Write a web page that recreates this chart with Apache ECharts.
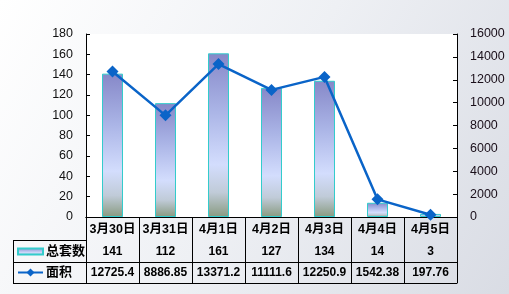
<!DOCTYPE html>
<html><head><meta charset="utf-8">
<script src="https://cdn.jsdelivr.net/npm/echarts@6/dist/echarts.min.js"></script>
<style>html,body{margin:0;padding:0;}#c{width:509px;height:294px;}</style>
</head><body><div id="c"></div>
<script>
const categories = ['3月30日','3月31日','4月1日','4月2日','4月3日','4月4日','4月5日'];
const totalUnits = [141, 112, 161, 127, 134, 14, 3];
const areaValues = [12725.4, 8886.85, 13371.2, 11111.6, 12250.9, 1542.38, 197.76];
const areaLabels = ['12725.4','8886.85','13371.2','11111.6','12250.9','1542.38','197.76'];
const leftTicks = {min: 0, max: 180, interval: 20};
const rightTicks = {min: 0, max: 16000, interval: 2000};

const FF = 'Liberation Sans, Arial, Noto Sans CJK SC, sans-serif';
const chart = echarts.init(document.getElementById('c'));
const tableAxis = (labels, offset, size, margin, show) => ({
  type: 'category', data: labels, position: 'bottom', offset: offset, gridIndex: 0,
  boundaryGap: true,
  axisLine: {show: true, lineStyle: {color: '#000', width: 1}},
  axisTick: {show: false},
  axisLabel: {show: show, interval: 0, margin: margin, color: '#000', fontWeight: 'bold', fontSize: size, fontFamily: FF}
});
chart.setOption({
  animation: false,
  backgroundColor: new echarts.graphic.LinearGradient(0, 0, 1, 1, [
    {offset: 0, color: '#ffffff'}, {offset: 0.5, color: '#eef0f4'}, {offset: 1, color: '#d9dce4'}
  ]),
  grid: {left: 86, right: 52, top: 34, bottom: 77, show: true, backgroundColor: '#ffffff', borderWidth: 0},
  legend: [
    {data: [{name: '总套数', icon: 'rect'}], left: 17, top: 245, padding: 0, itemWidth: 25, itemHeight: 6, itemGap: 2,
     textStyle: {color: '#000', fontWeight: 'bold', fontSize: 13, fontFamily: FF, padding: [0,0,0,-2]}},
    {data: ['面积'], left: 17, top: 266, padding: 0, itemWidth: 25, itemHeight: 10, itemGap: 2,
     textStyle: {color: '#000', fontWeight: 'bold', fontSize: 13, fontFamily: FF, padding: [0,0,0,-2]}}
  ],
  xAxis: [
    {
      type: 'category', data: categories, position: 'bottom', boundaryGap: true,
      axisLine: {show: true, lineStyle: {color: '#000', width: 1}},
      axisTick: {show: true, length: 66, inside: false, alignWithLabel: false, interval: 0, lineStyle: {color: '#000', width: 1}},
      axisLabel: {interval: 0, margin: 6, color: '#000', fontWeight: 'bold', fontSize: 12.5, fontFamily: FF}
    },
    tableAxis(totalUnits.map(String), 23, 12, 6, true),
    tableAxis(areaLabels, 45, 12, 5, true),
    tableAxis(categories, 66, 11, 5, false)
  ],
  yAxis: [
    {type: 'value', min: leftTicks.min, max: leftTicks.max, interval: leftTicks.interval, position: 'left',
     axisLine: {show: true, lineStyle: {color: '#000'}},
     axisTick: {show: true, inside: true, length: 4, lineStyle: {color: '#000'}},
     splitLine: {show: false},
     axisLabel: {margin: 13, color: '#111', fontSize: 12.5, fontFamily: FF}},
    {type: 'value', min: rightTicks.min, max: rightTicks.max, interval: rightTicks.interval, position: 'right',
     axisLine: {show: true, lineStyle: {color: '#000'}},
     axisTick: {show: true, inside: true, length: 4, lineStyle: {color: '#000'}},
     splitLine: {show: false},
     axisLabel: {margin: 13, color: '#1a0f1a', fontSize: 12.5, fontFamily: 'Liberation Sans Narrow, ' + FF,
                 formatter: v => String(v)}}
  ],
  series: [
    {name: '总套数', type: 'bar', data: totalUnits, yAxisIndex: 0, barWidth: 21,
     itemStyle: {
       color: new echarts.graphic.LinearGradient(0, 0, 0, 1, [
         {offset: 0, color: '#8688c8'}, {offset: 0.35, color: '#aab4e6'}, {offset: 0.68, color: '#d3ddfd'},
         {offset: 0.85, color: '#c0cbd8'}, {offset: 1, color: '#889a80'}
       ]),
       borderColor: '#33cccc', borderWidth: 1}},
    {name: '面积', type: 'line', data: areaValues, yAxisIndex: 1,
     symbol: 'diamond', symbolSize: 12,
     lineStyle: {color: '#0a64c8', width: 2.5},
     itemStyle: {color: '#0a64c8'}}
  ],
  graphic: [
    {type: 'line', shape: {x1: 13, y1: 240.5, x2: 86, y2: 240.5}, style: {stroke: '#000', lineWidth: 1}},
    {type: 'line', shape: {x1: 13, y1: 262.5, x2: 86, y2: 262.5}, style: {stroke: '#000', lineWidth: 1}},
    {type: 'line', shape: {x1: 13, y1: 283.5, x2: 86, y2: 283.5}, style: {stroke: '#000', lineWidth: 1}},
    {type: 'line', shape: {x1: 13.5, y1: 240, x2: 13.5, y2: 284}, style: {stroke: '#000', lineWidth: 1}}
  ]
});
</script></body></html>
